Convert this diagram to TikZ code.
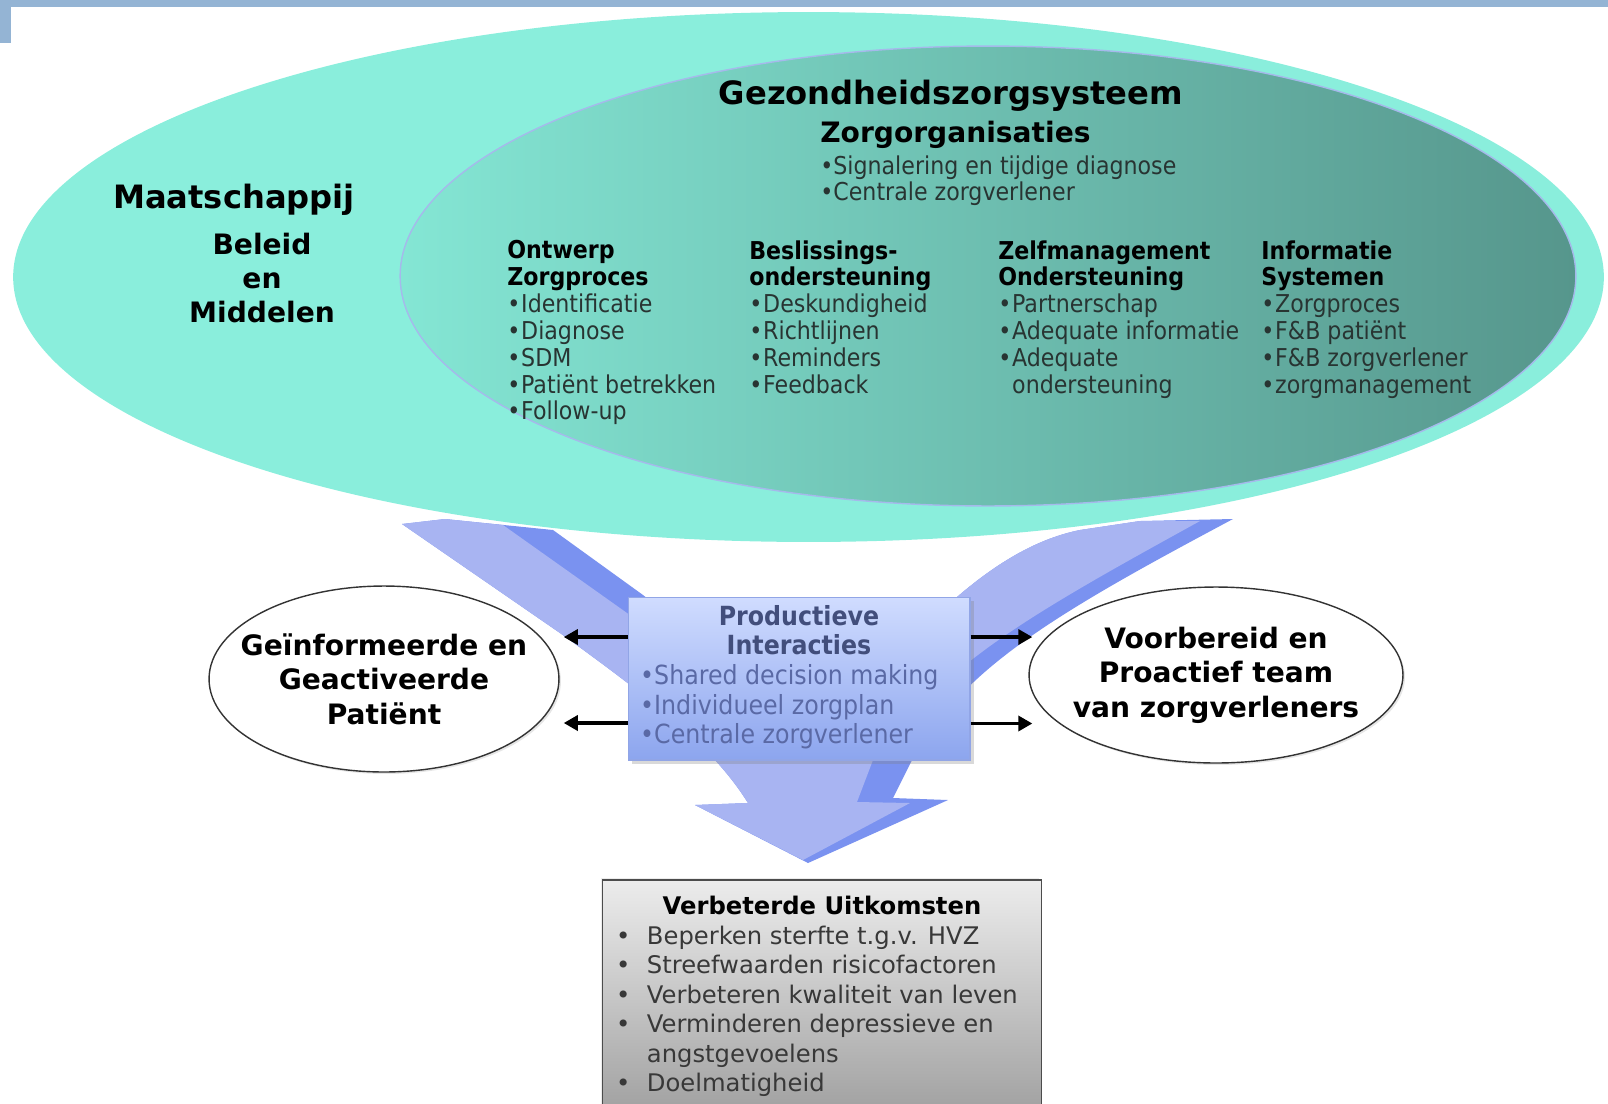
\documentclass[tikz,border=0pt]{standalone}
\usepackage{fontspec}
\setmainfont{DejaVu Sans}
\newfontfamily\condfont[BoldFont={DejaVu Sans Condensed Bold}]{DejaVu Sans Condensed}
\usepackage{tikz}
\usetikzlibrary{positioning, shapes.geometric, arrows.meta, shadows}
\definecolor{ccBar}{RGB}{148, 180, 212}
\definecolor{ccMint}{RGB}{138, 238, 220}
\definecolor{ccMintL}{RGB}{132, 230, 212}
\definecolor{ccTeal}{RGB}{86, 150, 140}
\definecolor{ccRim}{RGB}{165, 185, 235}
\definecolor{ccArrowD}{RGB}{122, 146, 240}
\definecolor{ccArrowL}{RGB}{168, 180, 242}
\definecolor{ccBoxT}{RGB}{208, 220, 255}
\definecolor{ccBoxB}{RGB}{140, 165, 238}
\definecolor{ccBoxLine}{RGB}{145, 165, 230}
\definecolor{ccBoxTitle}{RGB}{66, 78, 124}
\definecolor{ccBoxText}{RGB}{90, 105, 165}
\definecolor{ccInk}{RGB}{40, 52, 50}
\definecolor{ccGrayT}{RGB}{236, 236, 236}
\definecolor{ccGrayB}{RGB}{160, 160, 160}
\newcommand{\blt}{\makebox[7.9pt][l]{•}}
\newcommand{\bltgap}{\hspace*{7.9pt}}
\newcommand{\colhead}[1]{\textbf{\color{black}#1}}
\tikzset{
    headline/.style={
        font=\bfseries\fontsize{18.3}{21}\selectfont,
        inner sep=0pt
    },
    subhead/.style={
        font=\bfseries\fontsize{16}{19.6}\selectfont,
        align=center,
        inner sep=0pt
    },
    colnote/.style={
        font=\condfont\fontsize{14}{15.3}\selectfont,
        text=ccInk,
        align=left,
        anchor=north west,
        inner sep=0pt
    },
    actor/.style={
        ellipse,
        draw=black!80,
        line width=0.8pt,
        fill=white,
        drop shadow={opacity=0.2, shadow xshift=0.4mm, shadow yshift=-0.4mm}
    },
    actortext/.style={
        font=\bfseries\fontsize{16}{19.6}\selectfont,
        align=center,
        inner sep=0pt
    },
    interbox/.style={
        rectangle,
        draw=ccBoxLine,
        line width=0.6pt,
        top color=ccBoxT,
        bottom color=ccBoxB,
        minimum width=6.84cm,
        minimum height=3.26cm,
        inner sep=0pt,
        font=\condfont\fontsize{15}{16.9}\selectfont,
        text=ccBoxText,
        drop shadow={opacity=0.3, shadow xshift=0.8mm, shadow yshift=-0.8mm}
    },
    outbox/.style={
        rectangle,
        draw=black!70,
        line width=0.8pt,
        top color=ccGrayT,
        bottom color=ccGrayB,
        minimum width=8.78cm,
        minimum height=4.7cm,
        inner sep=0pt,
        font=\fontsize{13.8}{16.8}\selectfont,
        text=black!78,
        drop shadow={opacity=0.15, shadow xshift=-0.4mm, shadow yshift=0.4mm}
    },
    flow/.style={
        -{Triangle[length=8pt, width=8.5pt]},
        line width=2.2pt,
        black
    }
}

\begin{document}
\begin{tikzpicture}[x=0.02cm, y=-0.02cm]
  \useasboundingbox (0,0) rectangle (1608,1103);
  \clip (0,0) rectangle (1608,1103);

  % Frame
  \fill[ccBar] (0,0) rectangle (1608,7);
  \fill[ccBar] (0,0) rectangle (11,43);

  % Big arrow, dark side
  \fill[ccArrowD] (402,524) -- (445,519) -- (553,530) -- (643,595) -- (800,720) -- (957,597)
     .. controls (1000,560) and (1040,538) .. (1080,530) -- (1140,521) -- (1233,519)
     .. controls (1100,590) and (990,650) .. (940,720) -- (911,762) -- (893,798) -- (948,800)
     -- (808,863) -- (695,805) -- (748,803) .. controls (715,750) and (660,705) .. (560,633) -- cycle;
  % Big arrow, light face
  \fill[ccArrowL] (402,524) -- (445,519) -- (503,525) -- (627,613) -- (760,720) -- (957,597)
     .. controls (1000,560) and (1040,538) .. (1080,530) -- (1140,521) -- (1200,521)
     .. controls (1075,590) and (965,650) .. (918,712) -- (873,760) -- (857,802) -- (910,803)
     -- (803,860) -- (695,805) -- (748,803) .. controls (715,750) and (660,705) .. (560,633) -- cycle;

  % Society and health system
  \fill[ccMint] (808.5,277) ellipse [x radius=15.91cm, y radius=5.3cm];
  \path[left color=ccMintL, right color=ccTeal, draw=ccRim, line width=0.8pt]
     (988,276) ellipse [x radius=11.76cm, y radius=4.6cm];

  \node[headline] (society) at (234,200) {Maatschappij};
  \node[subhead] (policy) at (262,278) {Beleid\\en\\Middelen};
  \node[headline] (system) at (951,96) {Gezondheidszorgsysteem};
  \node[subhead, anchor=west] (orgs) at (820,135) {Zorgorganisaties};
  \node[colnote] (orgitems) at (820,155) {•Signalering en tijdige diagnose\\•Centrale zorgverlener};

  % Four columns
  \node[colnote] (design) at (507,240) {\colhead{Ontwerp}\\\colhead{Zorgproces}\\\blt Identificatie\\\blt Diagnose\\\blt SDM\\\blt Patiënt betrekken\\\blt Follow-up};
  \node[colnote] (decision) at (749,240) {\colhead{Beslissings-}\\\colhead{ondersteuning}\\\blt Deskundigheid\\\blt Richtlijnen\\\blt Reminders\\\blt Feedback};
  \node[colnote] (selfman) at (998,240) {\colhead{Zelfmanagement}\\\colhead{Ondersteuning}\\\blt Partnerschap\\\blt Adequate informatie\\\blt Adequate\\\bltgap ondersteuning};
  \node[colnote] (infosys) at (1261,240) {\colhead{Informatie}\\\colhead{Systemen}\\\blt Zorgproces\\\blt F\&B patiënt\\\blt F\&B zorgverlener\\\blt zorgmanagement};

  % Productive interactions
  \node[interbox] (inter) at (799,678.5) {\begin{tabular}{@{}l@{\hspace{11pt}}}
      \multicolumn{1}{@{}c@{}}{\textbf{\color{ccBoxTitle}Productieve}}\\
      \multicolumn{1}{@{}c@{}}{\textbf{\color{ccBoxTitle}Interacties}}\\
      •Shared decision making\\
      •Individueel zorgplan\\
      •Centrale zorgverlener
    \end{tabular}};

  % Patient and team
  \node[actor, minimum width=7cm, minimum height=3.72cm] (patient) at (384,679) {};
  \node[actortext] (patientlbl) at (patient) {Geïnformeerde en\\Geactiveerde\\Patiënt};
  \node[actor, minimum width=7.48cm, minimum height=3.52cm] (team) at (1216,675) {};
  \node[actortext] (teamlbl) at (team) {Voorbereid en\\Proactief team\\van zorgverleners};

  \coordinate (pa1) at ([yshift=8.3mm]inter.west);
  \coordinate (pa2) at ([yshift=-8.9mm]inter.west);
  \coordinate (ta1) at ([yshift=8.3mm]inter.east);
  \coordinate (ta2) at ([yshift=-9mm]inter.east);
  \draw[flow, shorten >=2.3pt] (pa1) -- (pa1 -| patient.east);
  \draw[flow, shorten >=2.3pt] (pa2) -- (pa2 -| patient.east);
  \draw[flow, shorten >=-2.3pt] (ta1) -- (ta1 -| team.west);
  \draw[flow, shorten >=-2.3pt] (ta2) -- (ta2 -| team.west);

  % Outcomes
  \node[outbox] (outcome) at (822,997.5) {\begin{tabular}{@{}l@{\hspace{9.4pt}}l@{\hspace{5.7pt}}}
      \multicolumn{2}{@{}c@{}}{\textbf{\color{black}Verbeterde Uitkomsten}}\\
      • & Beperken sterfte t.g.v. HVZ\\
      • & Streefwaarden risicofactoren\\
      • & Verbeteren kwaliteit van leven\\
      • & Verminderen depressieve en\\
        & angstgevoelens\\
      • & Doelmatigheid
    \end{tabular}};
\end{tikzpicture}
\end{document}
